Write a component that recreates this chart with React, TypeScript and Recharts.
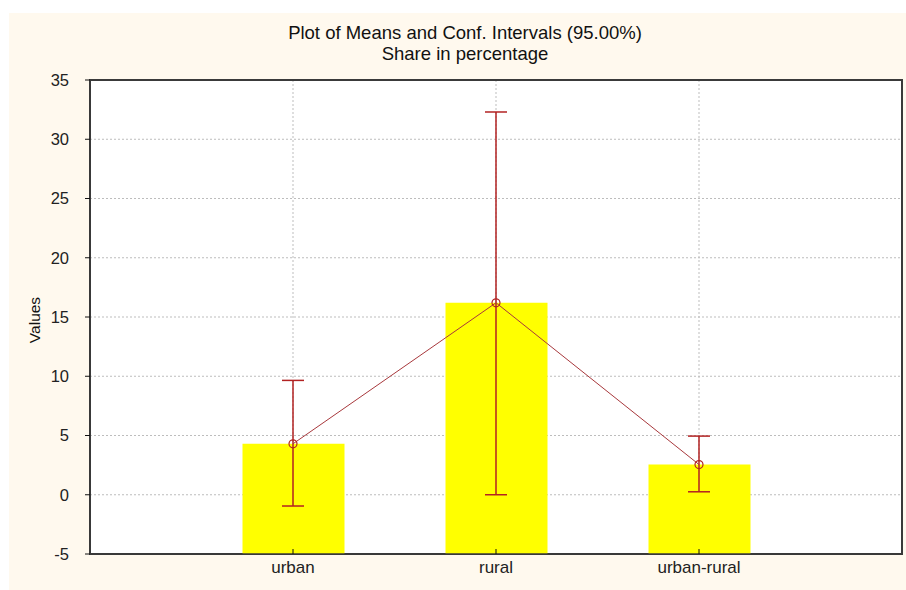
import { ComposedChart, Bar, Line, ErrorBar, XAxis, YAxis, CartesianGrid, ReferenceArea } from 'recharts';

const categories = ['urban', 'rural', 'urban-rural'];
const means = [4.3, 16.2, 2.55];
const lowerCI = [-0.95, 0.0, 0.25];
const upperCI = [9.65, 32.3, 4.95];
const yTicks = [-5, 0, 5, 10, 15, 20, 25, 30, 35];
const Y_MIN = -5;
const Y_MAX = 35;
const X_MAX = categories.length + 1;

const data = categories.map((name, i) => ({
  pos: i + 1,
  name,
  mean: means[i],
  err: [means[i] - lowerCI[i], upperCI[i] - means[i]],
}));

const FONT = '"Liberation Sans", Arial, sans-serif';
const AXIS = '#3a3a3a';
const RED = '#B22222';

export default function App() {
  return (
    <div style={{ position: 'absolute', left: 0, top: 0, width: 906, height: 590, overflow: 'hidden', background: '#fff', fontFamily: FONT }}>
      <div style={{ position: 'absolute', left: 9, top: 13, right: 0, bottom: 0, background: '#FFF9EE' }} />
      <div style={{ position: 'absolute', left: 0, width: 930, top: 22, textAlign: 'center', fontSize: 18.5, lineHeight: '21px', color: '#111' }}>
        <div>Plot of Means and Conf. Intervals (95.00%)</div>
        <div>Share in percentage</div>
      </div>
      <div style={{ position: 'absolute', left: 35, top: 320, transform: 'translate(-50%, -50%) rotate(-90deg)', fontSize: 15.5, color: '#111' }}>
        Values
      </div>
      <div style={{ position: 'absolute', left: 0, top: 0 }}>
        <ComposedChart width={906} height={590} data={data} margin={{ top: 80, right: 4, bottom: 0, left: 30 }}>
          <CartesianGrid stroke="#bdbdbd" strokeDasharray="2 2" fill="#fff" />
          <XAxis
            dataKey="pos"
            type="number"
            domain={[0, X_MAX]}
            ticks={data.map((d) => d.pos)}
            tickFormatter={(v: number) => categories[v - 1] ?? ''}
            height={36}
            axisLine={{ stroke: AXIS, strokeWidth: 1.5 }}
            tickLine={{ stroke: '#111' }}
            tickSize={-5}
            tickMargin={12}
            tick={{ fill: '#222', fontSize: 17, fontFamily: FONT }}
          />
          <YAxis
            domain={[Y_MIN, Y_MAX]}
            ticks={yTicks}
            width={60}
            interval={0}
            axisLine={{ stroke: AXIS, strokeWidth: 1.5 }}
            tickLine={{ stroke: '#111' }}
            tickSize={5}
            tickMargin={16}
            tick={{ fill: '#222', fontSize: 16.5, fontFamily: FONT }}
          />
          <Bar dataKey={(d: any) => [Y_MIN, d.mean]} fill="#FFFF00" barSize={102} isAnimationActive={false} />
          <Line
            dataKey="mean"
            stroke="#A8383C"
            strokeWidth={1}
            dot={{ r: 4, stroke: RED, fill: 'none', strokeWidth: 1.2 }}
            activeDot={false}
            isAnimationActive={false}
          >
            <ErrorBar dataKey="err" width={11} stroke={RED} strokeWidth={1.5} />
          </Line>
          <ReferenceArea
            x1={0}
            x2={X_MAX}
            y1={Y_MIN}
            y2={Y_MAX}
            fill="none"
            fillOpacity={0}
            stroke={AXIS}
            strokeWidth={2}
            ifOverflow="visible"
          />
        </ComposedChart>
      </div>
    </div>
  );
}
